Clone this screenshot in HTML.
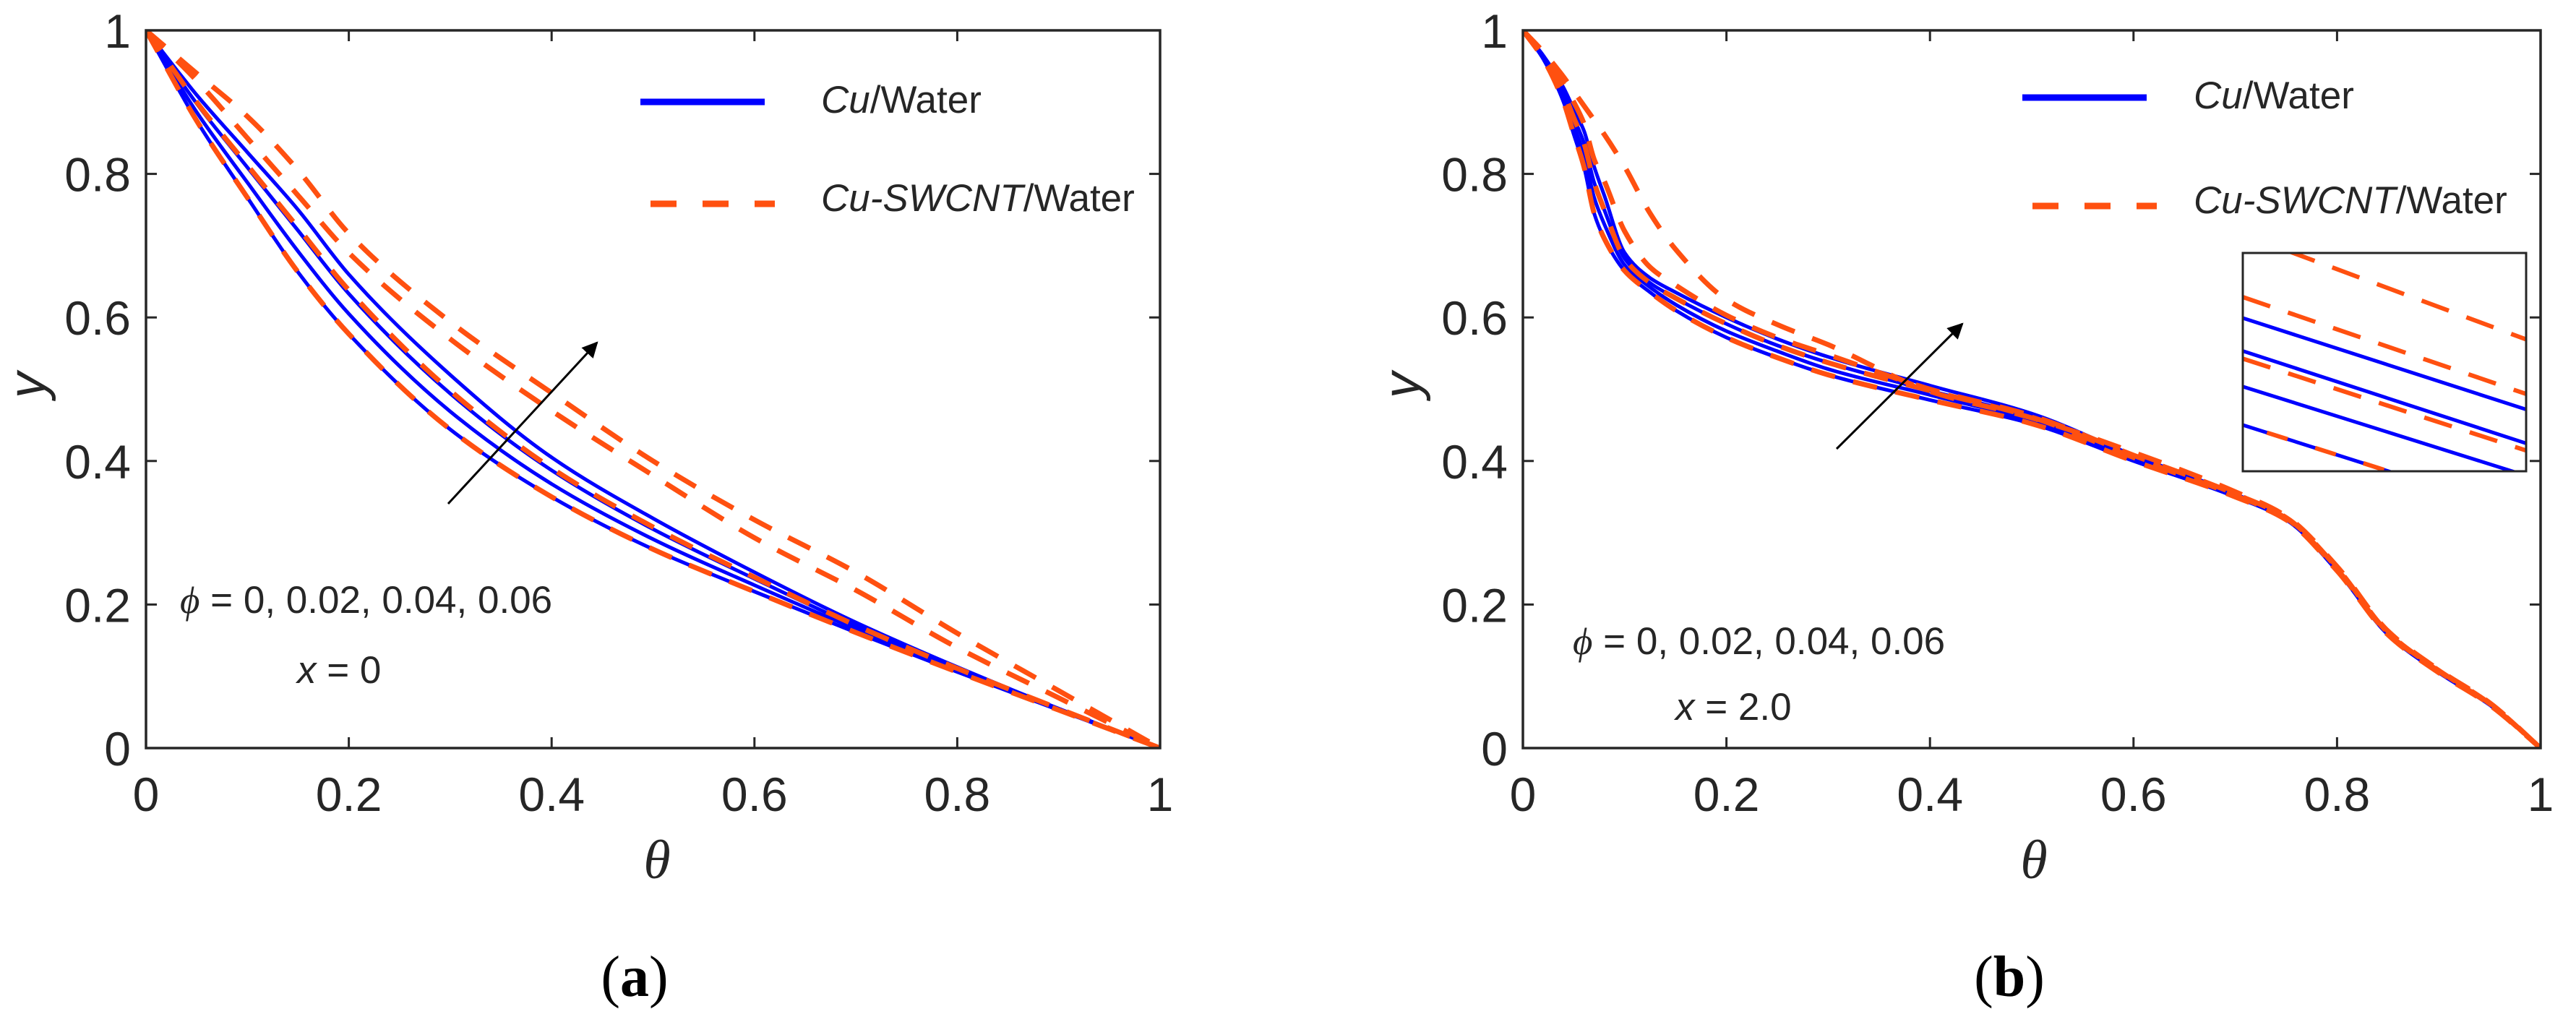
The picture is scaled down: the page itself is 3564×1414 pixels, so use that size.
<!DOCTYPE html>
<html>
<head>
<meta charset="utf-8">
<style>
  html,body{margin:0;padding:0;background:#fff;}
  svg{display:block;}
  text{font-family:"Liberation Sans",Arial,sans-serif;fill:#262626;}
</style>
</head>
<body>
<svg id="fig" width="3564" height="1414" viewBox="0 0 3564 1414" xmlns="http://www.w3.org/2000/svg">
  <defs>
    <clipPath id="clipA"><rect x="202" y="42" width="1403" height="993"/></clipPath>
    <clipPath id="clipB"><rect x="2107" y="42" width="1408" height="993"/></clipPath>
    <clipPath id="clipInset"><rect x="3103" y="350" width="392" height="302"/></clipPath>
    <marker id="arrowhead" viewBox="0 0 10 10" refX="9" refY="5" markerWidth="22" markerHeight="22" orient="auto" markerUnits="userSpaceOnUse">
      <path d="M0,0 L10,5 L0,10 z" fill="#000"/>
    </marker>
  </defs>
  <g id="panelA"></g>
  <g id="panelB"></g>
</svg>
<script>
// ---------- DATA ----------
const xTicks = [0, 0.2, 0.4, 0.6, 0.8, 1];
const yTicks = [0, 0.2, 0.4, 0.6, 0.8, 1];
const xTickLabels = ["0", "0.2", "0.4", "0.6", "0.8", "1"];
const yTickLabels = ["0", "0.2", "0.4", "0.6", "0.8", "1"];

// Panel (a): theta grid and y values of each curve
const thetaA = [0, 0.05, 0.1, 0.15, 0.2, 0.3, 0.4, 0.5, 0.6, 0.7, 0.8, 0.9, 1];
const cuA1 = [1, 0.874, 0.767, 0.663, 0.577, 0.444, 0.350, 0.277, 0.218, 0.161, 0.106, 0.053, 0];
const cuA2 = [1, 0.886, 0.788, 0.692, 0.605, 0.469, 0.368, 0.291, 0.227, 0.166, 0.108, 0.054, 0];
const cuA3 = [1, 0.898, 0.809, 0.721, 0.633, 0.494, 0.387, 0.305, 0.236, 0.170, 0.111, 0.055, 0];
const cuA4 = [1, 0.910, 0.830, 0.750, 0.660, 0.520, 0.405, 0.320, 0.245, 0.175, 0.113, 0.055, 0];
const hyA1 = [1, 0.874, 0.767, 0.663, 0.577, 0.444, 0.350, 0.277, 0.218, 0.161, 0.106, 0.053, 0];
const hyA2 = [1, 0.900, 0.812, 0.725, 0.638, 0.498, 0.390, 0.308, 0.238, 0.171, 0.111, 0.055, 0];
const hyA3 = [1, 0.930, 0.850, 0.770, 0.690, 0.570, 0.470, 0.380, 0.293, 0.220, 0.140, 0.070, 0];
const hyA4 = [1, 0.940, 0.880, 0.805, 0.717, 0.594, 0.495, 0.400, 0.318, 0.245, 0.160, 0.080, 0];

// Panel (b)
const thetaB = [0, 0.02, 0.04, 0.05, 0.06, 0.07, 0.08, 0.1, 0.125, 0.15, 0.2, 0.25, 0.3, 0.4, 0.5, 0.6, 0.7, 0.75, 0.8, 0.85, 0.9, 0.95, 1];
const cuB1 = [1, 0.960, 0.900, 0.855, 0.810, 0.745, 0.710, 0.665, 0.635, 0.610, 0.572, 0.544, 0.520, 0.485, 0.452, 0.400, 0.350, 0.318, 0.247, 0.158, 0.105, 0.060, 0];
const cuB2 = [1, 0.962, 0.907, 0.867, 0.827, 0.767, 0.730, 0.673, 0.642, 0.618, 0.581, 0.553, 0.528, 0.492, 0.456, 0.402, 0.351, 0.319, 0.248, 0.159, 0.106, 0.061, 0];
const cuB3 = [1, 0.963, 0.913, 0.878, 0.843, 0.788, 0.750, 0.682, 0.648, 0.627, 0.591, 0.561, 0.537, 0.498, 0.461, 0.405, 0.352, 0.320, 0.249, 0.160, 0.107, 0.061, 0];
const cuB4 = [1, 0.965, 0.920, 0.890, 0.860, 0.810, 0.770, 0.690, 0.655, 0.635, 0.600, 0.570, 0.545, 0.505, 0.466, 0.408, 0.354, 0.321, 0.250, 0.161, 0.108, 0.062, 0];
const hyB1 = [1, 0.960, 0.900, 0.855, 0.810, 0.745, 0.710, 0.665, 0.635, 0.610, 0.572, 0.544, 0.520, 0.485, 0.452, 0.400, 0.350, 0.318, 0.247, 0.158, 0.105, 0.060, 0];
const hyB2 = [1, 0.963, 0.913, 0.878, 0.843, 0.788, 0.750, 0.682, 0.648, 0.627, 0.591, 0.561, 0.537, 0.498, 0.461, 0.405, 0.352, 0.320, 0.249, 0.160, 0.107, 0.061, 0];
const hyB3 = [1, 0.965, 0.925, 0.900, 0.870, 0.820, 0.790, 0.720, 0.670, 0.645, 0.603, 0.572, 0.548, 0.500, 0.463, 0.408, 0.354, 0.321, 0.251, 0.161, 0.108, 0.062, 0];
const hyB4 = [1, 0.970, 0.935, 0.915, 0.895, 0.875, 0.855, 0.810, 0.745, 0.695, 0.625, 0.590, 0.562, 0.497, 0.460, 0.412, 0.357, 0.323, 0.253, 0.163, 0.109, 0.063, 0];

// Inset lines: fraction of inset height at left and right edges
const insetKinds = ["hy", "hy", "cu", "cu", "hy", "cu", "mix"];
const insetLeft  = [-0.086, 0.202, 0.298, 0.449, 0.484, 0.612, 0.788];
const insetRight = [ 0.396, 0.646, 0.717, 0.872, 0.905, 1.020, 1.200];

// ---------- DRAWING ----------
const NS = "http://www.w3.org/2000/svg";
const BLUE = "#0000ff", ORANGE = "#ff5010", AX = "#262626";

function mk(tag, attrs, parent) {
  const el = document.createElementNS(NS, tag);
  for (const k in attrs) el.setAttribute(k, attrs[k]);
  parent.appendChild(el);
  return el;
}
// monotone cubic (Fritsch-Carlson) path in pixel space
function monoPath(px, py) {
  const n = px.length, d = [], m = new Array(n);
  for (let i = 0; i < n - 1; i++) d.push((py[i + 1] - py[i]) / (px[i + 1] - px[i]));
  m[0] = d[0]; m[n - 1] = d[n - 2];
  for (let i = 1; i < n - 1; i++) {
    if (d[i - 1] * d[i] <= 0) m[i] = 0;
    else {
      const h0 = px[i] - px[i - 1], h1 = px[i + 1] - px[i];
      const w1 = 2 * h1 + h0, w2 = h1 + 2 * h0;
      m[i] = (w1 + w2) / (w1 / d[i - 1] + w2 / d[i]);
    }
  }
  let s = "M" + px[0].toFixed(1) + "," + py[0].toFixed(1);
  for (let i = 0; i < n - 1; i++) {
    const h = px[i + 1] - px[i];
    s += " C" + (px[i] + h / 3).toFixed(1) + "," + (py[i] + m[i] * h / 3).toFixed(1) + " " +
         (px[i + 1] - h / 3).toFixed(1) + "," + (py[i + 1] - m[i + 1] * h / 3).toFixed(1) + " " +
         px[i + 1].toFixed(1) + "," + py[i + 1].toFixed(1);
  }
  return s;
}

function drawPanel(g, cfg) {
  const L = cfg.left, R = cfg.right, T = 42, B = 1035;
  const xs = v => L + v * (R - L);
  const ys = v => B - v * (B - T);
  const pxs = cfg.theta.map(xs);

  const cg = mk("g", {"clip-path": "url(#" + cfg.clip + ")"}, g);
  
  
  cfg.cu.forEach((arr, i) => {
    const p = mk("path", {d: monoPath(pxs, arr.map(ys)), fill: "none", stroke: BLUE, "stroke-width": 5}, cg);
    
    
  });
  cfg.hy.forEach((arr, i) => {
    const p = mk("path", {d: monoPath(pxs, arr.map(ys)), fill: "none", stroke: ORANGE, "stroke-width": 7, "stroke-dasharray": "34 26"}, cg);
    
    
  });

  const box = mk("rect", {x: L, y: T, width: R - L, height: B - T, fill: "none", stroke: AX, "stroke-width": 3.5}, g);
  
  

  xTicks.forEach((v, i) => {
    const x = xs(v);
    const t1 = mk("line", {x1: x, y1: B, x2: x, y2: B - 15, stroke: AX, "stroke-width": 3}, g);
    
    
    const t2 = mk("line", {x1: x, y1: T, x2: x, y2: T + 15, stroke: AX, "stroke-width": 3}, g);
    
    
    const lb = mk("text", {x: x, y: 1122, "font-size": 66, "text-anchor": "middle"}, g);
    lb.textContent = xTickLabels[i];
    
    
  });
  yTicks.forEach((v, i) => {
    const y = ys(v);
    const t1 = mk("line", {x1: L, y1: y, x2: L + 15, y2: y, stroke: AX, "stroke-width": 3}, g);
    
    
    const t2 = mk("line", {x1: R, y1: y, x2: R - 15, y2: y, stroke: AX, "stroke-width": 3}, g);
    
    
    const lb = mk("text", {x: L - 21, y: y + 24, "font-size": 66, "text-anchor": "end"}, g);
    lb.textContent = yTickLabels[i];
    
    
  });

  const yl = mk("text", {x: 0, y: 0, "font-size": 72, "font-style": "italic", "text-anchor": "middle", transform: "translate(" + cfg.ylabX + ",533) rotate(-90)"}, g);
  yl.textContent = "y";
  
  
  const xl = mk("text", {x: cfg.xlabX, y: 1215, "font-size": 76, "font-style": "italic", "text-anchor": "middle", style: "font-family:'Liberation Serif',serif"}, g);
  xl.textContent = "θ";
  
  

  const lg = mk("g", {}, g);
  
  
  const l1 = mk("line", {x1: cfg.legX, y1: cfg.legY1, x2: cfg.legX + 172, y2: cfg.legY1, stroke: BLUE, "stroke-width": 9}, lg);
  
  
  const t1 = mk("text", {x: cfg.legTX, y: cfg.legY1 + 15, "font-size": 53}, lg);
  t1.innerHTML = '<tspan font-style="italic">Cu</tspan>/Water';
  
  
  const l2 = mk("line", {x1: cfg.legX + 14, y1: cfg.legY2, x2: cfg.legX + 186, y2: cfg.legY2, stroke: ORANGE, "stroke-width": 9, "stroke-dasharray": "36 36"}, lg);
  
  
  const t2 = mk("text", {x: cfg.legTX, y: cfg.legY2 + 10, "font-size": 53}, lg);
  t2.innerHTML = '<tspan font-style="italic">Cu-SWCNT</tspan>/Water';
  
  

  const ph = mk("text", {x: cfg.phiX, y: cfg.phiY, "font-size": 53}, g);
  ph.innerHTML = '<tspan font-style="italic" style="font-family:\'Liberation Serif\',serif">ϕ</tspan> = 0, 0.02, 0.04, 0.06';
  
  
  const xa = mk("text", {x: cfg.xaX, y: cfg.xaY, "font-size": 53}, g);
  xa.innerHTML = '<tspan font-style="italic">x</tspan> = ' + cfg.xVal;
  
  
  const ar = mk("line", {x1: cfg.arrow[0], y1: cfg.arrow[1], x2: cfg.arrow[2], y2: cfg.arrow[3], stroke: "#000", "stroke-width": 3, "marker-end": "url(#arrowhead)"}, g);
  
  

  const cap = mk("text", {x: cfg.capX, y: 1378, "font-size": 80, "text-anchor": "middle", style: "font-family:'Liberation Serif',serif;fill:#000"}, g);
  cap.innerHTML = '(<tspan font-weight="bold">' + cfg.cap + '</tspan>)';
  
  
}

drawPanel(document.getElementById("panelA"), {
  left: 202, right: 1605, clip: "clipA", theta: thetaA,
  cu: [cuA1, cuA2, cuA3, cuA4], hy: [hyA1, hyA2, hyA3, hyA4],
  ylabX: 62, xlabX: 909,
  legX: 886, legY1: 141, legY2: 282, legTX: 1136,
  phiX: 249, phiY: 848, xaX: 411, xaY: 945, xVal: "0",
  arrow: [620, 697, 826, 474], capX: 878, cap: "a"
});
drawPanel(document.getElementById("panelB"), {
  left: 2107, right: 3515, clip: "clipB", theta: thetaB,
  cu: [cuB1, cuB2, cuB3, cuB4], hy: [hyB1, hyB2, hyB3, hyB4],
  ylabX: 1964, xlabX: 2814,
  legX: 2798, legY1: 135, legY2: 285, legTX: 3035,
  phiX: 2176, phiY: 905, xaX: 2318, xaY: 996, xVal: "2.0",
  arrow: [2541, 621, 2715, 448], capX: 2780, cap: "b"
});

(function () {
  const g = document.getElementById("panelB");
  const IX = 3103, IY = 350, IW = 392, IH = 302;
  const ig = mk("g", {}, g);
  
  
  mk("rect", {x: IX, y: IY, width: IW, height: IH, fill: "#fff"}, ig);
  const cg = mk("g", {"clip-path": "url(#clipInset)"}, ig);
  insetKinds.forEach((k, i) => {
    const y1 = IY + insetLeft[i] * IH, y2 = IY + insetRight[i] * IH;
    if (k === "cu" || k === "mix") {
      const l = mk("line", {x1: IX, y1: y1, x2: IX + IW, y2: y2, stroke: BLUE, "stroke-width": 5}, cg);
      
      
    }
    if (k === "hy" || k === "mix") {
      const l = mk("line", {x1: IX, y1: y1, x2: IX + IW, y2: y2, stroke: ORANGE, "stroke-width": 6, "stroke-dasharray": k === "mix" ? "30 40" : "40 26", "stroke-dashoffset": k === "mix" ? 35 : 0}, cg);
      
      
    }
  });
  const fr = mk("rect", {x: IX, y: IY, width: IW, height: IH, fill: "none", stroke: AX, "stroke-width": 3}, ig);
  
  
})();
</script>
</body>
</html>
